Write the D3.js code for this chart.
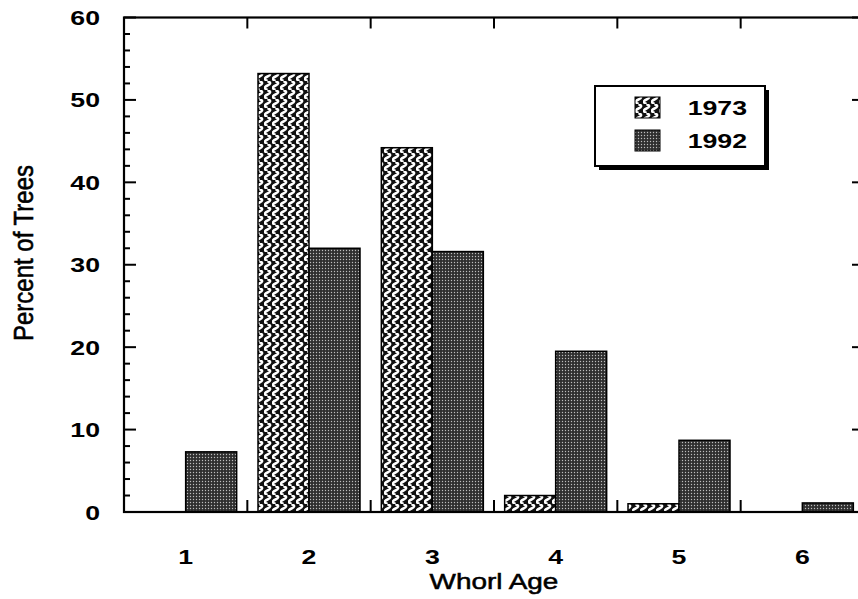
<!DOCTYPE html>
<html>
<head>
<meta charset="utf-8">
<script src="https://cdn.jsdelivr.net/npm/d3@7"></script>
<style>
  body { margin: 0; background: #fff; }
  text { font-family: "Liberation Sans", Arial, sans-serif; fill: #000; }
</style>
</head>
<body>
<div id="chart"></div>
<script>
// data
var categories = [1, 2, 3, 4, 5, 6];
var seriesNames = ["1973", "1992"];
var values1973 = [0, 53.2, 44.2, 2.0, 1.0, 0];
var values1992 = [7.3, 32.0, 31.6, 19.5, 8.7, 1.1];
var yTicks = [0, 10, 20, 30, 40, 50, 60];
var yMinorTicks = d3.range(0, 61, 2);

var W = 858, H = 599;
var plotL = 124, plotR = 864, plotT = 17.5, plotB = 512;
var stretch = 1.27; // the scan is wider than tall

var svg = d3.select("#chart")
  .append("svg")
  .attr("width", W)
  .attr("height", H);

// patterns
var defs = svg.append("defs");
var p1 = defs.append("pattern")
  .attr("id", "p1973")
  .attr("patternUnits", "userSpaceOnUse")
  .attr("width", 8).attr("height", 9);
p1.append("rect").attr("width", 8).attr("height", 9).attr("fill", "#111");
p1.append("path")
  .attr("d", "M3.5,0 C7,1.5 7,3 3.5,4.5 C0,6 0,7.5 3.5,9")
  .attr("fill", "none").attr("stroke", "#fff").attr("stroke-width", 2.6);

var p2 = defs.append("pattern")
  .attr("id", "p1992")
  .attr("patternUnits", "userSpaceOnUse")
  .attr("width", 3).attr("height", 3);
p2.append("rect").attr("width", 3).attr("height", 3).attr("fill", "#2f2f2f");
p2.append("circle").attr("cx", 1.5).attr("cy", 1.5).attr("r", 0.7).attr("fill", "#bdbdbd");

var fills = {"1973": "url(#p1973)", "1992": "url(#p1992)"};

// scales
var x = d3.scaleBand()
  .domain(categories)
  .range([plotL, plotR]);
var bw = x.bandwidth();
var xs = d3.scaleBand()
  .domain(seriesNames)
  .range([bw / 2 - 51, bw / 2 + 51]);
var y = d3.scaleLinear()
  .domain([0, 60])
  .range([plotB, plotT]);

var rows = [];
categories.forEach(function(c, i) {
  rows.push({cat: c, s: "1973", v: values1973[i]});
  rows.push({cat: c, s: "1992", v: values1992[i]});
});

// bars
svg.append("g")
  .selectAll("rect")
  .data(rows.filter(function(d) { return d.v > 0; }))
  .enter()
  .append("rect")
  .attr("x", function(d) { return x(d.cat) + xs(d.s); })
  .attr("y", function(d) { return y(d.v); })
  .attr("width", xs.bandwidth())
  .attr("height", function(d) { return y(0) - y(d.v); })
  .attr("fill", function(d) { return fills[d.s]; })
  .attr("stroke", "#000")
  .attr("stroke-width", 1.5);

// frame
var frame = svg.append("g").attr("stroke", "#000").attr("fill", "none");
frame.append("rect")
  .attr("x", plotL).attr("y", plotT)
  .attr("width", plotR - plotL).attr("height", plotB - plotT)
  .attr("stroke-width", 2.2);

// y ticks, left and right, pointing inward
yMinorTicks.forEach(function(t) {
  var len = t % 10 === 0 ? 12 : 6;
  frame.append("line")
    .attr("x1", plotL).attr("x2", plotL + len)
    .attr("y1", y(t)).attr("y2", y(t))
    .attr("stroke-width", 2);
  frame.append("line")
    .attr("x1", plotR).attr("x2", plotR - len)
    .attr("y1", y(t)).attr("y2", y(t))
    .attr("stroke-width", 2);
});

// x ticks at category boundaries, bottom and top
categories.slice(1).forEach(function(c) {
  var bx = x(c);
  frame.append("line")
    .attr("x1", bx).attr("x2", bx)
    .attr("y1", plotB).attr("y2", plotB - 12)
    .attr("stroke-width", 2);
  frame.append("line")
    .attr("x1", bx).attr("x2", bx)
    .attr("y1", plotT).attr("y2", plotT + 11)
    .attr("stroke-width", 2);
});

// y tick labels
svg.append("g")
  .selectAll("text")
  .data(yTicks)
  .enter()
  .append("text")
  .attr("transform", function(d) { return "translate(100," + (y(d) + 7.5) + ") scale(" + stretch + ",1)"; })
  .attr("text-anchor", "end")
  .style("font-size", "21px")
  .style("font-weight", "bold")
  .text(function(d) { return d; });

// x tick labels
svg.append("g")
  .selectAll("text")
  .data(categories)
  .enter()
  .append("text")
  .attr("transform", function(d) { return "translate(" + (x(d) + bw / 2) + ",564) scale(" + stretch + ",1)"; })
  .attr("text-anchor", "middle")
  .style("font-size", "21px")
  .style("font-weight", "bold")
  .text(function(d) { return d; });

// axis titles
svg.append("text")
  .attr("transform", "translate(494,589) scale(" + stretch + ",1)")
  .attr("text-anchor", "middle")
  .style("font-size", "22px")
  .style("stroke", "#000")
  .style("stroke-width", "0.5px")
  .text("Whorl Age");

svg.append("text")
  .attr("transform", "translate(33,253) rotate(-90) scale(1,1.15)")
  .attr("text-anchor", "middle")
  .style("font-size", "24px")
  .style("stroke", "#000")
  .style("stroke-width", "0.5px")
  .text("Percent of Trees");

// legend
var lg = svg.append("g").attr("transform", "translate(595,86)");
lg.append("rect")
  .attr("x", 4).attr("y", 4)
  .attr("width", 170).attr("height", 80)
  .attr("fill", "#000");
lg.append("rect")
  .attr("width", 170).attr("height", 80)
  .attr("fill", "#fff")
  .attr("stroke", "#000")
  .attr("stroke-width", 2);
seriesNames.forEach(function(s, i) {
  lg.append("rect")
    .attr("x", 40).attr("y", 11 + i * 33)
    .attr("width", 25).attr("height", 21)
    .attr("fill", fills[s])
    .attr("stroke", "#000")
    .attr("stroke-width", 1);
  lg.append("text")
    .attr("transform", "translate(152," + (29 + i * 33) + ") scale(" + stretch + ",1)")
    .attr("text-anchor", "end")
    .style("font-size", "21px")
    .style("font-weight", "bold")
    .text(s);
});
</script>
</body>
</html>
